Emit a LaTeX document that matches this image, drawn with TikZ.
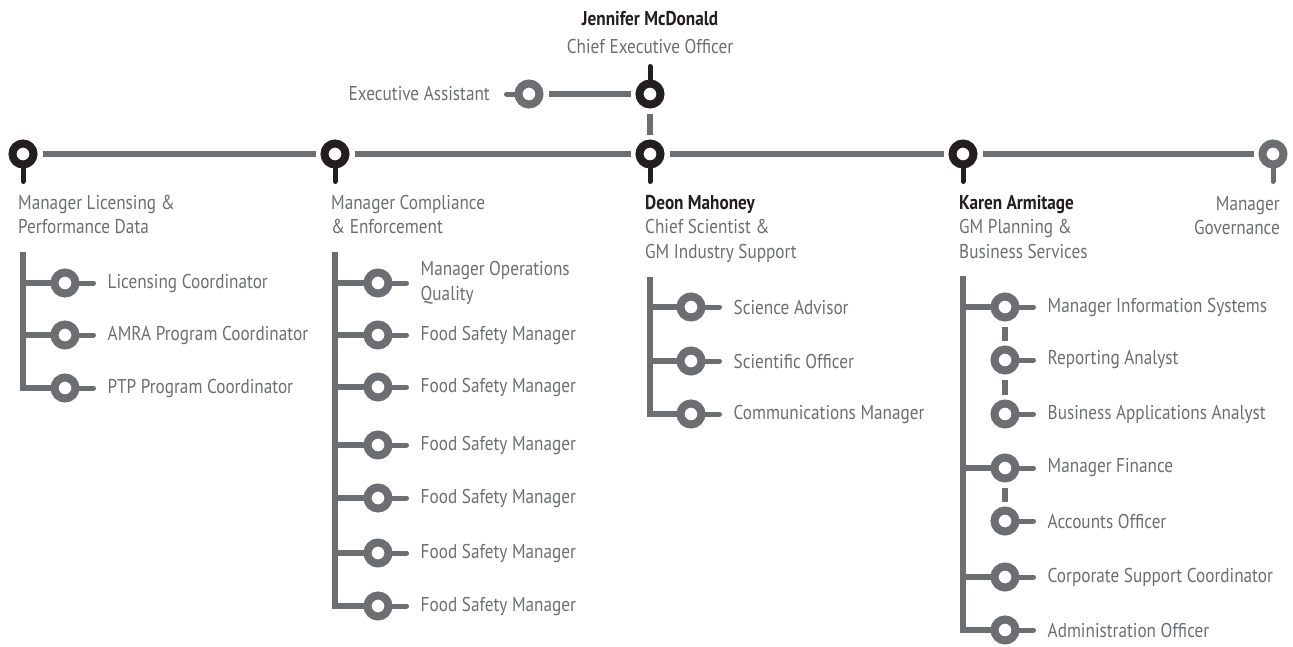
\documentclass[tikz,border=0pt]{standalone}
\usepackage{fontspec}
\setmainfont{PT Sans}[FakeStretch=0.86]
\usetikzlibrary{positioning}

\definecolor{lineGrey}{HTML}{6D6E71}
\definecolor{textGrey}{HTML}{6D6E71}
\definecolor{pinBlack}{HTML}{231F20}

\begin{document}
\begin{tikzpicture}[x=1pt,y=-1pt,
  font=\fontsize{20}{24.5}\selectfont,
  line/.style={draw=lineGrey,line width=6pt},
  gap/.style={shorten <=5pt,shorten >=5pt},
  boss/.style={circle,draw=pinBlack,line width=8pt,fill=white,minimum size=21pt,inner sep=0pt},
  staff/.style={boss,draw=lineGrey},
  stem/.style={line width=5pt,line cap=round},
  stub/.style={draw=lineGrey,line width=5pt,line cap=round},
  head/.style={anchor=north west,align=left,text=textGrey,inner sep=0pt},
  bossname/.style={text=pinBlack,font=\fontsize{20}{24.5}\selectfont\bfseries},
  item/.style={anchor=west,align=left,text=textGrey,inner sep=0pt}]

\useasboundingbox (0,0) rectangle (1293,646);

% chief executive and assistant
\node[boss] (ceo) at (650,94) {};
\draw[pinBlack,stem] (ceo.north) -- ++(0,-13);
\node[anchor=base,inner sep=0pt,bossname] (ceoname) at (650,25) {Jennifer McDonald};
\node[anchor=base,inner sep=0pt,text=textGrey] (ceotitle) at (650,53) {Chief Executive Officer};

\node[staff] (ea) at (529,94) {};
\draw[stub] (ea.west) -- ++(-8,0);
\node[anchor=east,inner sep=0pt,text=textGrey] (eatext) at (490,94) {Executive Assistant};
\draw[line,gap] (ea) -- (ceo);

% second level
\node[boss] (lic) at (23,154) {};
\node[boss] (comp) at (335,154) {};
\node[boss] (sci) at (650,154) {};
\node[boss] (plan) at (963,154) {};
\node[staff] (gov) at (1273,154) {};

\draw[pinBlack,stem] (lic.south) -- ++(0,13);
\draw[pinBlack,stem] (comp.south) -- ++(0,13);
\draw[pinBlack,stem] (sci.south) -- ++(0,13);
\draw[pinBlack,stem] (plan.south) -- ++(0,13);
\draw[lineGrey,stem] (gov.south) -- ++(0,13);

\draw[line,gap] (ceo) -- (sci);
\draw[line,gap] (lic) -- (comp);
\draw[line,gap] (comp) -- (sci);
\draw[line,gap] (sci) -- (plan);
\draw[line,gap] (plan) -- (gov);

\node[head] (lictext) at (18,195) {Manager Licensing \&\\Performance Data};
\node[head] (comptext) at (331,195) {Manager Compliance\\\& Enforcement};
\node[head] (scitext) at (645,195) {\textcolor{pinBlack}{\bfseries Deon Mahoney}\\Chief Scientist \&\\GM Industry Support};
\node[head] (plantext) at (959,195) {\textcolor{pinBlack}{\bfseries Karen Armitage}\\GM Planning \&\\Business Services};
\node[head,anchor=north east,align=right] (govtext) at (1280,196) {Manager\\Governance};

% licensing team
\coordinate (c1) at (23,252);
\node[staff] (lc) at (65,283) {};
\node[staff] (amra) at (65,335) {};
\node[staff] (ptp) at (65,388) {};
\draw[line] (c1) |- (ptp.west);
\draw[line] (lc.west) -- (lc -| c1);
\draw[line] (amra.west) -- (amra -| c1);
\draw[stub] (lc.east) -- ++(14,0);
\draw[stub] (amra.east) -- ++(14,0);
\draw[stub] (ptp.east) -- ++(14,0);
\node[item,right=28pt of lc] (lctext) {Licensing Coordinator};
\node[item,right=28pt of amra] (amratext) {AMRA Program Coordinator};
\node[item,right=28pt of ptp] (ptptext) {PTP Program Coordinator};

% compliance team
\coordinate (c2) at (335,252);
\node[staff] (moq) at (378,283) {};
\node[staff] (fsa) at (378,335) {};
\node[staff] (fsb) at (378,387) {};
\node[staff] (fsc) at (378,445) {};
\node[staff] (fsd) at (378,498) {};
\node[staff] (fse) at (378,553) {};
\node[staff] (fsf) at (378,606) {};
\draw[line] (c2) |- (fsf.west);
\draw[line] (moq.west) -- (moq -| c2);
\draw[line] (fsa.west) -- (fsa -| c2);
\draw[line] (fsb.west) -- (fsb -| c2);
\draw[line] (fsc.west) -- (fsc -| c2);
\draw[line] (fsd.west) -- (fsd -| c2);
\draw[line] (fse.west) -- (fse -| c2);
\draw[stub] (moq.east) -- ++(14,0);
\draw[stub] (fsa.east) -- ++(14,0);
\draw[stub] (fsb.east) -- ++(14,0);
\draw[stub] (fsc.east) -- ++(14,0);
\draw[stub] (fsd.east) -- ++(14,0);
\draw[stub] (fse.east) -- ++(14,0);
\draw[stub] (fsf.east) -- ++(14,0);
\node[item,right=28pt of moq] (moqtext) {Manager Operations\\Quality};
\node[item,right=28pt of fsa] (fsatext) {Food Safety Manager};
\node[item,right=28pt of fsb] (fsbtext) {Food Safety Manager};
\node[item,right=28pt of fsc] (fsctext) {Food Safety Manager};
\node[item,right=28pt of fsd] (fsdtext) {Food Safety Manager};
\node[item,right=28pt of fse] (fsetext) {Food Safety Manager};
\node[item,right=28pt of fsf] (fsftext) {Food Safety Manager};

% science team
\coordinate (c3) at (650,277);
\node[staff] (sa) at (691,307) {};
\node[staff] (so) at (691,361) {};
\node[staff] (cm) at (691,414) {};
\draw[line] (c3) |- (cm.west);
\draw[line] (sa.west) -- (sa -| c3);
\draw[line] (so.west) -- (so -| c3);
\draw[stub] (sa.east) -- ++(14,0);
\draw[stub] (so.east) -- ++(14,0);
\draw[stub] (cm.east) -- ++(14,0);
\node[item,right=28pt of sa] (satext) {Science Advisor};
\node[item,right=28pt of so] (sotext) {Scientific Officer};
\node[item,right=28pt of cm] (cmtext) {Communications Manager};

% planning and business services team
\coordinate (c4) at (963,276);
\node[staff] (mis) at (1005,307) {};
\node[staff] (ra) at (1005,360) {};
\node[staff] (baa) at (1005,414) {};
\node[staff] (mf) at (1005,468) {};
\node[staff] (ao) at (1005,521) {};
\node[staff] (csc) at (1005,577) {};
\node[staff] (adm) at (1005,630) {};
\draw[line] (c4) |- (adm.west);
\draw[line] (mis.west) -- (mis -| c4);
\draw[line] (mf.west) -- (mf -| c4);
\draw[line] (csc.west) -- (csc -| c4);
\draw[line,gap] (mis) -- (ra);
\draw[line,gap] (ra) -- (baa);
\draw[line,gap] (mf) -- (ao);
\draw[stub] (mis.east) -- ++(14,0);
\draw[stub] (ra.east) -- ++(14,0);
\draw[stub] (baa.east) -- ++(14,0);
\draw[stub] (mf.east) -- ++(14,0);
\draw[stub] (ao.east) -- ++(14,0);
\draw[stub] (csc.east) -- ++(14,0);
\draw[stub] (adm.east) -- ++(14,0);
\node[item,right=28pt of mis] (mistext) {Manager Information Systems};
\node[item,right=28pt of ra] (ratext) {Reporting Analyst};
\node[item,right=28pt of baa] (baatext) {Business Applications Analyst};
\node[item,right=28pt of mf] (mftext) {Manager Finance};
\node[item,right=28pt of ao] (aotext) {Accounts Officer};
\node[item,right=28pt of csc] (csctext) {Corporate Support Coordinator};
\node[item,right=28pt of adm] (admtext) {Administration Officer};
\end{tikzpicture}
\end{document}
